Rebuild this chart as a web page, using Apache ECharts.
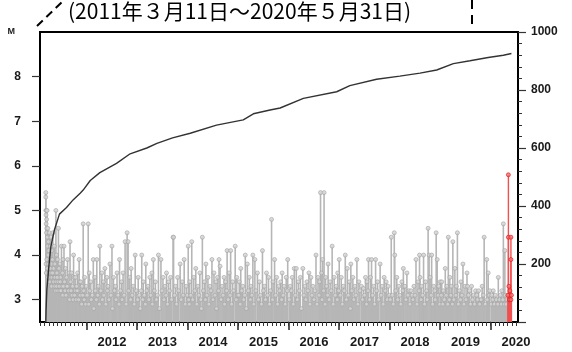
<!DOCTYPE html>
<html><head><meta charset="utf-8">
<script src="https://cdn.jsdelivr.net/npm/echarts@6/dist/echarts.min.js"></script>
<style>html,body{margin:0;padding:0;background:#fff}#c{width:572px;height:352px}</style>
</head><body><div id="c"></div>
<script>
// Events: [fraction of year, magnitude]
const ev2011 = [[0.19,5.4],[0.19,5.3],[0.192,5.0],[0.195,4.9],[0.197,4.7],[0.20,5.0],[0.203,4.5],[0.206,4.8],[0.21,4.6],[0.215,5.0],[0.22,4.4],[0.225,4.2],[0.23,4.6],[0.235,4.0],[0.24,4.3],[0.25,4.1],[0.26,4.5],[0.27,3.9],[0.28,4.2],[0.29,4.4],[0.30,3.8],[0.31,4.1],[0.32,3.9],[0.33,4.5],[0.34,3.7],[0.36,4.2],[0.37,3.8],[0.39,5.0],[0.40,4.0],[0.41,3.6],[0.42,3.9],[0.44,4.6],[0.45,3.7],[0.47,3.8],[0.48,3.5],[0.50,4.2],[0.52,3.6],[0.53,3.9],[0.55,4.2],[0.56,3.4],[0.58,3.7],[0.60,3.5],[0.62,3.9],[0.63,3.3],[0.65,3.6],[0.67,4.3],[0.68,3.4],[0.70,3.6],[0.72,3.3],[0.74,4.0],[0.75,3.5],[0.77,3.2],[0.78,3.5],[0.80,3.3],[0.82,3.6],[0.83,3.2],[0.85,3.9],[0.86,3.4],[0.88,3.4],[0.89,3.1],[0.91,3.3],[0.93,4.7],[0.94,3.2],[0.96,3.5],[0.97,3.1],[0.99,3.3],
[0.195,3.8],[0.20,3.6],[0.21,3.9],[0.22,3.7],[0.23,3.5],[0.245,3.8],[0.255,3.6],[0.265,3.4],[0.275,3.7],[0.285,3.5],[0.295,3.6],[0.305,3.3],[0.315,3.5],[0.325,3.6],[0.345,3.4],[0.355,3.5],[0.365,3.3],[0.375,3.5],[0.385,3.2],[0.395,3.4],[0.405,3.3],[0.415,3.5],[0.425,3.2],[0.435,3.4],[0.455,3.3],[0.465,3.2],[0.475,3.4],[0.49,3.2],[0.51,3.3],[0.525,3.1],[0.54,3.3],[0.57,3.2],[0.59,3.1],[0.61,3.3],[0.64,3.2],[0.66,3.0],[0.69,3.2],[0.71,3.1],[0.73,3.0],[0.76,3.1],[0.79,3.0],[0.81,3.2],[0.84,3.0],[0.87,3.1],[0.90,2.9],[0.92,3.1],[0.95,3.0],[0.98,2.9]];
const ev2012 = [[0.03,4.7],[0.05,3.6],[0.08,3.4],[0.13,3.9],[0.16,3.5],[0.20,3.9],[0.23,3.3],[0.26,4.2],[0.30,3.6],[0.33,3.4],[0.36,3.7],[0.40,3.5],[0.42,3.3],[0.46,3.8],[0.50,4.2],[0.53,3.5],[0.57,3.3],[0.60,3.6],[0.65,3.9],[0.69,3.4],[0.72,3.6],[0.76,4.3],[0.80,4.5],[0.82,4.3],[0.85,3.5],[0.88,3.7],[0.92,3.3],[0.96,4.0],
[0.01,3.1],[0.04,2.9],[0.06,3.2],[0.09,3.0],[0.11,3.1],[0.14,2.8],[0.17,3.2],[0.19,3.0],[0.22,3.1],[0.25,2.9],[0.28,3.2],[0.31,3.0],[0.34,3.1],[0.38,2.9],[0.41,3.2],[0.44,3.0],[0.48,3.1],[0.51,2.8],[0.55,3.2],[0.58,3.0],[0.62,3.1],[0.64,2.9],[0.67,3.2],[0.70,3.0],[0.74,3.1],[0.78,2.9],[0.83,3.2],[0.87,3.0],[0.90,3.1],[0.94,2.9],[0.98,3.2]];
const ev2013 = [[0.02,3.5],[0.09,4.0],[0.12,3.4],[0.17,3.8],[0.21,3.3],[0.25,3.5],[0.29,3.6],[0.32,3.9],[0.36,3.4],[0.42,4.0],[0.47,3.9],[0.51,3.5],[0.55,3.3],[0.58,3.6],[0.62,3.4],[0.66,3.5],[0.71,4.4],[0.72,4.4],[0.76,3.3],[0.80,3.5],[0.85,3.8],[0.89,3.4],[0.93,3.9],[0.97,3.3],
[0.01,3.0],[0.04,3.1],[0.06,2.8],[0.08,3.2],[0.11,3.0],[0.14,3.1],[0.16,2.9],[0.19,3.2],[0.23,3.0],[0.27,3.1],[0.30,2.9],[0.34,3.2],[0.38,3.0],[0.40,3.1],[0.44,2.8],[0.49,3.2],[0.53,3.0],[0.57,3.1],[0.60,2.9],[0.64,3.2],[0.68,3.0],[0.74,3.1],[0.78,2.9],[0.82,3.2],[0.87,3.0],[0.91,3.1],[0.95,2.9],[0.99,3.1]];
const ev2014 = [[0.01,4.2],[0.04,3.4],[0.08,4.3],[0.12,3.5],[0.16,3.7],[0.20,3.3],[0.24,3.6],[0.29,4.4],[0.33,3.4],[0.36,3.8],[0.40,3.5],[0.44,3.3],[0.48,3.9],[0.52,3.6],[0.56,3.4],[0.59,3.5],[0.62,3.9],[0.64,3.75],[0.68,3.3],[0.72,3.5],[0.75,3.4],[0.78,4.1],[0.82,3.6],[0.85,4.1],[0.89,3.4],[0.94,4.2],[0.97,3.5],
[0.02,3.0],[0.03,2.9],[0.06,3.1],[0.10,3.0],[0.14,3.2],[0.18,2.9],[0.22,3.1],[0.26,3.0],[0.27,2.8],[0.31,3.2],[0.35,3.0],[0.38,3.1],[0.42,2.9],[0.46,3.2],[0.50,3.0],[0.54,3.1],[0.57,2.8],[0.61,3.2],[0.66,3.0],[0.70,3.1],[0.73,2.9],[0.77,3.2],[0.80,3.0],[0.84,3.1],[0.87,2.9],[0.91,3.2],[0.96,3.0],[0.99,3.1]];
const ev2015 = [[0.02,3.4],[0.05,3.7],[0.09,3.3],[0.14,4.0],[0.18,3.8],[0.22,3.5],[0.25,3.3],[0.29,4.0],[0.33,3.9],[0.38,3.6],[0.42,3.4],[0.48,4.1],[0.52,3.3],[0.56,3.6],[0.60,3.5],[0.66,4.8],[0.69,3.4],[0.72,3.9],[0.76,3.5],[0.80,3.3],[0.84,3.4],[0.87,3.6],[0.91,3.3],[0.95,3.5],[0.98,3.9],
[0.01,3.1],[0.04,2.9],[0.07,3.2],[0.11,3.0],[0.13,3.1],[0.16,2.8],[0.20,3.2],[0.24,3.0],[0.27,3.1],[0.31,2.9],[0.35,3.2],[0.40,3.0],[0.44,3.1],[0.46,2.9],[0.50,3.2],[0.54,3.0],[0.58,3.1],[0.62,2.9],[0.64,3.2],[0.68,3.0],[0.74,3.1],[0.78,2.9],[0.82,3.2],[0.86,3.0],[0.89,3.1],[0.93,2.9],[0.97,3.2]];
const ev2016 = [[0.03,3.3],[0.07,3.5],[0.11,3.7],[0.15,3.7],[0.19,3.4],[0.23,3.5],[0.28,3.7],[0.32,3.3],[0.36,3.4],[0.40,3.6],[0.44,3.5],[0.48,3.3],[0.54,4.0],[0.58,3.5],[0.61,3.4],[0.63,5.4],[0.65,3.6],[0.67,3.9],[0.70,5.4],[0.73,3.5],[0.75,3.3],[0.78,3.8],[0.82,3.4],[0.86,4.2],[0.90,3.5],[0.94,3.3],[0.97,3.6],
[0.01,3.0],[0.05,3.2],[0.09,2.9],[0.13,3.1],[0.17,3.0],[0.21,3.2],[0.25,2.8],[0.30,3.1],[0.34,3.0],[0.38,3.2],[0.42,2.9],[0.46,3.1],[0.50,3.0],[0.52,3.2],[0.56,2.9],[0.60,3.1],[0.66,3.0],[0.69,3.2],[0.72,2.9],[0.77,3.1],[0.80,3.0],[0.84,3.2],[0.88,2.9],[0.92,3.1],[0.96,3.0],[0.99,3.2]];
const ev2017 = [[0.00,3.9],[0.04,3.5],[0.08,3.3],[0.12,4.0],[0.16,3.7],[0.20,3.4],[0.23,3.8],[0.27,3.5],[0.31,3.3],[0.35,3.9],[0.39,3.4],[0.44,3.3],[0.48,3.25],[0.52,3.5],[0.55,3.4],[0.58,3.9],[0.62,3.5],[0.64,3.9],[0.68,3.3],[0.72,3.9],[0.76,3.4],[0.81,3.8],[0.85,3.3],[0.89,3.5],[0.93,3.4],[0.97,3.3],
[0.02,3.1],[0.06,2.9],[0.10,3.2],[0.14,3.0],[0.18,3.1],[0.22,2.8],[0.25,3.2],[0.29,3.0],[0.33,3.1],[0.37,2.9],[0.41,3.2],[0.46,3.0],[0.50,3.1],[0.54,2.9],[0.57,3.2],[0.60,3.0],[0.66,3.1],[0.70,2.9],[0.74,3.2],[0.78,3.0],[0.83,3.1],[0.87,2.9],[0.91,3.2],[0.95,3.0],[0.99,3.1]];
const ev2018 = [[0.03,4.4],[0.09,4.5],[0.10,4.0],[0.14,3.5],[0.18,3.3],[0.24,3.4],[0.27,3.7],[0.30,3.3],[0.34,3.6],[0.38,3.2],[0.44,3.1],[0.48,3.3],[0.52,3.9],[0.56,3.4],[0.59,4.0],[0.60,3.5],[0.63,3.3],[0.67,4.0],[0.71,3.4],[0.76,4.6],[0.78,4.0],[0.80,3.5],[0.83,4.0],[0.87,3.3],[0.92,4.5],[0.94,3.9],[0.97,3.3],
[0.01,3.0],[0.05,3.1],[0.07,2.9],[0.12,3.2],[0.16,3.0],[0.20,3.1],[0.22,2.9],[0.26,3.2],[0.32,3.0],[0.36,3.1],[0.40,2.9],[0.42,3.2],[0.46,3.0],[0.50,3.1],[0.54,2.9],[0.58,3.2],[0.62,3.0],[0.65,3.1],[0.69,2.9],[0.73,3.2],[0.74,3.0],[0.82,3.1],[0.85,2.9],[0.89,3.2],[0.90,3.0],[0.96,3.1],[0.99,2.9]];
const ev2019 = [[0.00,3.4],[0.03,3.4],[0.06,3.2],[0.10,3.7],[0.13,3.3],[0.16,4.4],[0.19,3.5],[0.22,3.3],[0.25,4.3],[0.29,3.7],[0.32,3.3],[0.34,4.5],[0.38,3.2],[0.41,3.4],[0.45,3.8],[0.49,3.3],[0.53,3.6],[0.54,3.3],[0.58,3.2],[0.62,3.3],[0.66,3.1],[0.70,3.2],[0.72,3.1],[0.76,3.2],[0.79,3.0],[0.83,3.3],[0.87,4.4],[0.92,3.9],[0.95,3.6],[0.98,3.2],
[0.02,3.1],[0.05,2.9],[0.08,3.0],[0.12,3.1],[0.15,2.9],[0.18,3.0],[0.21,3.1],[0.24,2.9],[0.27,3.0],[0.31,3.1],[0.36,2.9],[0.40,3.0],[0.43,3.1],[0.47,2.9],[0.51,3.0],[0.56,3.1],[0.60,2.9],[0.64,3.0],[0.68,2.9],[0.74,3.0],[0.78,2.9],[0.81,3.0],[0.85,3.1],[0.89,2.9],[0.93,3.0],[0.97,3.1]];
const ev2020 = [[0.02,3.1],[0.05,3.2],[0.09,3.1],[0.12,3.0],[0.15,3.5],[0.19,3.1],[0.22,3.2],[0.25,4.7],[0.28,4.1],[0.30,3.0],
[0.01,2.9],[0.04,3.0],[0.07,2.9],[0.11,3.0],[0.14,2.9],[0.17,3.0],[0.21,2.9],[0.24,3.0],[0.27,2.9],[0.29,3.1],[0.31,2.9],[0.33,3.0]];
// latest month (May 2020), drawn in red
const red2020 = [[0.34,3.1],[0.35,5.8],[0.35,4.4],[0.36,3.3],[0.37,3.0],[0.38,3.2],[0.40,4.4],[0.40,3.9],[0.40,3.0],[0.41,3.1]];

// cumulative number of events (right axis)
const cumT = [2011.19,2011.195,2011.21,2011.25,2011.29,2011.36,2011.46,2011.60,2011.73,2011.87,2011.93,2012.07,2012.26,2012.59,2012.86,2013.19,2013.39,2013.70,2014.05,2014.57,2015.10,2015.30,2015.63,2015.83,2016.29,2016.95,2017.21,2017.74,2018.20,2018.60,2018.93,2019.26,2019.59,2019.95,2020.25,2020.41];
const cumN = [0,40,110,191,260,317,372,395,421,444,455,488,515,547,580,600,616,635,651,679,697,718,731,738,771,794,815,837,848,858,869,891,901,912,920,926];

const yearLabels = ['2012','2013','2014','2015','2016','2017','2018','2019','2020'];
const magTicks = [3,4,5,6,7,8];
const title = '(2011年３月11日～2020年５月31日)';

const X_MIN = 2011.075, X_MAX = 2020.54, M_MIN = 2.5, M_MAX = 9;

function toEvents(year, arr){ return arr.map(d => [year + d[0], d[1]]); }
const grayEvents = [].concat(
  toEvents(2011, ev2011), toEvents(2012, ev2012), toEvents(2013, ev2013),
  toEvents(2014, ev2014), toEvents(2015, ev2015), toEvents(2016, ev2016),
  toEvents(2017, ev2017), toEvents(2018, ev2018), toEvents(2019, ev2019),
  toEvents(2020, ev2020));
const redEvents = toEvents(2020, red2020);
const cumData = cumT.map((t,i) => [t, cumN[i]]);

const yearTicks = yearLabels.map(s => +s);
const yearLabelPos = yearLabels.map(s => +s + 0.5);
const monthTicks = [];
for (let y = 2011; y <= 2020; y++) for (let m = 0; m < 12; m++) {
  const v = y + m/12; if (v > X_MIN && v < X_MAX) monthTicks.push(v);
}

function stem(color, w){
  return function(params, api){
    const t = api.value(0), m = api.value(1);
    const a = api.coord([t, m]), b = api.coord([t, M_MIN]);
    return {type:'line', shape:{x1:a[0], y1:a[1], x2:b[0], y2:b[1]}, style:{stroke:color, lineWidth:w}};
  };
}

const chart = echarts.init(document.getElementById('c'), null, {renderer:'canvas'});
const lbl = {color:'#1a1a1a', fontWeight:'bold', fontFamily:'Liberation Sans, Arial, sans-serif'};
chart.setOption({
  animation:false,
  grid:{left:40, right:54, top:32, bottom:30, show:true, borderColor:'#000', borderWidth:2, backgroundColor:'transparent'},
  xAxis:[{
    type:'value', min:X_MIN, max:X_MAX, splitLine:{show:false},
    axisLine:{show:true, lineStyle:{color:'#000', width:2}},
    axisTick:{show:true, customValues:yearTicks, length:8, lineStyle:{color:'#222', width:1.5}},
    axisLabel:Object.assign({customValues:yearLabelPos, formatter:v => String(Math.floor(v)), fontSize:13, margin:14}, lbl)
  },{
    type:'value', min:X_MIN, max:X_MAX, position:'bottom', splitLine:{show:false},
    axisLine:{show:false},
    axisTick:{show:true, customValues:monthTicks, length:4, lineStyle:{color:'#333', width:1}},
    axisLabel:{show:false}
  }],
  yAxis:[{
    type:'value', min:M_MIN, max:M_MAX, position:'left', splitLine:{show:false},
    axisLine:{show:true, lineStyle:{color:'#000', width:2}},
    axisTick:{show:true, customValues:magTicks, length:8, lineStyle:{color:'#333', width:1.2}},
    axisLabel:Object.assign({customValues:magTicks.concat([9]), fontSize:12, margin:19,
      formatter:v => v === 9 ? '{m|M}' : String(v),
      rich:{m:{fontSize:9, fontWeight:'bold', color:'#222', padding:[0,6,0,0]}}}, lbl)
  },{
    type:'value', min:0, max:1000, interval:200, position:'right', splitLine:{show:false},
    axisLine:{show:true, lineStyle:{color:'#000', width:2}},
    axisTick:{show:true, length:8, lineStyle:{color:'#333', width:1.2}},
    minorTick:{show:true, splitNumber:5, length:4, lineStyle:{color:'#333', width:1}},
    axisLabel:Object.assign({fontSize:12, margin:13, formatter:v => v === 0 ? '' : String(v)}, lbl)
  }],
  series:[
    {type:'custom', name:'gray stems', xAxisIndex:0, yAxisIndex:0, data:grayEvents, encode:{x:0,y:1}, renderItem:stem('#b6b6b6', 1.6), clip:true, z:2},
    {type:'scatter', name:'gray marks', xAxisIndex:0, yAxisIndex:0, data:grayEvents, symbol:'circle', symbolSize:4,
      itemStyle:{color:'#d4d4d4', borderColor:'#a2a2a2', borderWidth:0.8}, z:3},
    {type:'custom', name:'red stems', xAxisIndex:0, yAxisIndex:0, data:redEvents, encode:{x:0,y:1}, renderItem:stem('#f05050', 1.4), clip:true, z:4},
    {type:'scatter', name:'red marks', xAxisIndex:0, yAxisIndex:0, data:redEvents, symbol:'circle', symbolSize:4,
      itemStyle:{color:'#f47070', borderColor:'#e01010', borderWidth:0.8}, z:5},
    {type:'line', name:'cumulative', xAxisIndex:0, yAxisIndex:1, data:cumData, showSymbol:false, symbol:'none',
      lineStyle:{color:'#333', width:1.4}, z:6}
  ],
  graphic:[
    {type:'text', left:68, top:1, style:{text:title, fontSize:21, fontFamily:'Noto Sans CJK JP', fill:'#000'}},
    {type:'line', shape:{x1:37, y1:26, x2:64, y2:0}, style:{stroke:'#000', lineWidth:2, lineDash:[8,5]}},
    {type:'line', shape:{x1:472, y1:0, x2:472, y2:30}, style:{stroke:'#000', lineWidth:2, lineDash:[9,6]}}
  ]
});
</script></body></html>
